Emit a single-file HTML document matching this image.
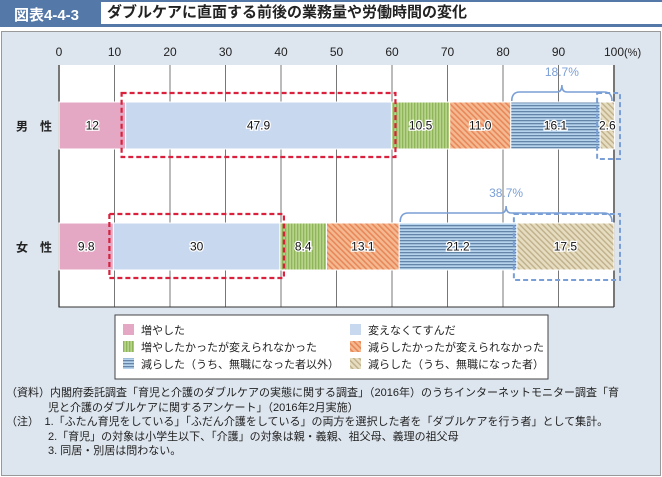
<!DOCTYPE html>
<html><head><meta charset="utf-8"><style>
body{margin:0;width:662px;height:477px;overflow:hidden;background:#fff;font-family:"Liberation Sans","Noto Sans CJK JP",sans-serif;}
#hdr{position:absolute;left:0;top:0;width:662px;height:27px;background:#5479a8;}
#lbl{position:absolute;left:14px;top:4px;color:#fff;font-size:15px;font-weight:bold;}
#ttl{position:absolute;left:101px;top:2px;width:556px;height:22px;background:#fff;font-size:15px;font-weight:bold;line-height:22px;padding-left:6px;color:#222;}
#panel{position:absolute;left:1px;top:31px;width:658px;height:443px;background:#dde5ee;border:1px solid #999;}
#notes{position:absolute;left:6px;top:386px;font-size:11px;line-height:14.5px;color:#222;}
svg{position:absolute;left:0;top:0;}
</style></head><body>
<div id="hdr"><span id="lbl">図表4-4-3</span></div>
<div id="ttl">ダブルケアに直面する前後の業務量や労働時間の変化</div>
<div id="panel"></div>
<svg id="chart" width="662" height="477">
<defs>
<pattern id="pg" width="3" height="4" patternUnits="userSpaceOnUse"><rect width="3" height="4" fill="#b7d38a"/><rect width="1.3" height="4" fill="#8fb55a"/></pattern>
<pattern id="po" width="4" height="4" patternUnits="userSpaceOnUse" patternTransform="rotate(-45)"><rect width="4" height="4" fill="#f4b990"/><rect width="1.6" height="4" fill="#e8875a"/></pattern>
<pattern id="pb" width="4" height="3" patternUnits="userSpaceOnUse"><rect width="4" height="3" fill="#b6d3ee"/><rect width="4" height="1.3" fill="#6585a8"/></pattern>
<pattern id="pt" width="4" height="4" patternUnits="userSpaceOnUse" patternTransform="rotate(-45)"><rect width="4" height="4" fill="#e6dcc0"/><rect width="1.4" height="4" fill="#bfb08a"/></pattern>
</defs>
<rect x="59" y="65" width="555" height="242" fill="#fff"/>
<g id="grid"></g><g id="bars"></g><g id="overlay"></g>
</svg>
<div id="notes">
<div>（資料）内閣府委託調査「育児と介護のダブルケアの実態に関する調査」（2016年）のうちインターネットモニター調査「育</div>
<div style="padding-left:42px">児と介護のダブルケアに関するアンケート」（2016年2月実施）</div>
<div>（注）　1.「ふたん育児をしている」「ふだん介護をしている」の両方を選択した者を「ダブルケアを行う者」として集計。</div>
<div style="padding-left:42px">2.「育児」の対象は小学生以下、「介護」の対象は親・義親、祖父母、義理の祖父母</div>
<div style="padding-left:42px">3. 同居・別居は問わない。</div>
</div>
<script>
const categories=["男　性","女　性"];
const seriesNames=["増やした","変えなくてすんだ","増やしたかったが変えられなかった","減らしたかったが変えられなかった","減らした（うち、無職になった者以外）","減らした（うち、無職になった者）"];
const maleValues=[12,47.9,10.5,11.0,16.1,2.6];
const femaleValues=[9.8,30,8.4,13.1,21.2,17.5];
const valueLabels=[["12","47.9","10.5","11.0","16.1","2.6"],["9.8","30","8.4","13.1","21.2","17.5"]];
const ticks=[0,10,20,30,40,50,60,70,80,90,100];
const braceLabels=["18.7%","38.7%"];
const fills=["#e4a8c4","#c8d8ef","url(#pg)","url(#po)","url(#pb)","url(#pt)"];
const NS="http://www.w3.org/2000/svg";
const X0=59,X1=614;
const xs=v=>X0+(X1-X0)*v/100;
const rowY=[102,223],BH=47;
function mk(t,a,p){const e=document.createElementNS(NS,t);for(const k in a)e.setAttribute(k,a[k]);p.appendChild(e);return e;}
const grid=document.getElementById('grid'),bars=document.getElementById('bars'),ov=document.getElementById('overlay');
ticks.forEach((t,i)=>{
 const l=mk('line',{x1:xs(t),x2:xs(t),y1:65,y2:307,stroke:i%2?'#777':'#bbb','stroke-width':i%2?1:2},grid);
 
 
 const tx=mk('text',{x:xs(t),y:56,'text-anchor':'middle','font-size':12,fill:'#222'},grid);
 tx.textContent=t;
 
 
});
const pct=mk('text',{x:xs(100)+10,y:56,'font-size':11,fill:'#222'},grid);pct.textContent='(%)';


const ax=mk('path',{d:`M${X0} 65V307H${X1}`,stroke:'#333',fill:'none'},grid);


mk('line',{x1:X1,x2:X1,y1:65,y2:307,stroke:'#333'},grid);
const rows=[maleValues,femaleValues];
const segs=[];
rows.forEach((vals,r)=>{
 const cl=mk('text',{x:34,y:rowY[r]+BH/2+5,'text-anchor':'middle','font-size':12,'font-weight':'bold',fill:'#222'},bars);
 cl.textContent=categories[r];
 
 
 let acc=0;segs[r]=[];
 vals.forEach((v,i)=>{
  const a=xs(acc),b=xs(acc+v);segs[r].push([a,b]);
  const rc=mk('rect',{x:a,y:rowY[r],width:b-a,height:BH,fill:fills[i],stroke:'#fff','stroke-width':1},bars);
  
  
  const tx=mk('text',{x:(a+b)/2,y:rowY[r]+BH/2+4,'text-anchor':'middle','font-size':12,fill:'#111',stroke:'#fff','stroke-width':2.5,'paint-order':'stroke'},bars);
  tx.textContent=valueLabels[r][i];
  
  
  acc+=v;
 });
});
segs.forEach((s,r)=>{
 const d=mk('rect',{x:s[1][0]-4,y:rowY[r]-9,width:s[1][1]-s[1][0]+8,height:BH+17,fill:'none',stroke:'#d9203c','stroke-width':2.2,'stroke-dasharray':'5,3'},ov);
 
 
 const e=mk('rect',{x:s[5][0]-3,y:rowY[r]-9,width:X1-s[5][0]+9,height:BH+19,fill:'none',stroke:'#7a9fd6','stroke-width':2,'stroke-dasharray':'5,3'},ov);
 
 
 const a=s[4][0]+1,b=X1-2,m=(a+b)/2,y=rowY[r]-7;
 const br=mk('path',{d:`M${a} ${y+6}Q${a} ${y-3} ${a+8} ${y-3}H${m-5}Q${m} ${y-3} ${m} ${y-10}Q${m} ${y-3} ${m+5} ${y-3}H${b-8}Q${b} ${y-3} ${b} ${y+6}`,fill:'none',stroke:'#7a9fd6','stroke-width':1.6},ov);
 
 
 const bl=mk('text',{x:m,y:y-19,'text-anchor':'middle','font-size':12,fill:'#7a9fd6'},ov);
 bl.textContent=braceLabels[r];
 
 
});
const lg=mk('rect',{x:115,y:315,width:433,height:64,fill:'#fff',stroke:'#444'},ov);


seriesNames.forEach((n,i)=>{
 const cx=i%2?350:123,cy=324+Math.floor(i/2)*17;
 const sw=mk('rect',{x:cx,y:cy,width:11,height:11,fill:fills[i]},ov);
 
 
 const t=mk('text',{x:cx+18,y:cy+10,'font-size':11,fill:'#222'},ov);
 t.textContent=n;
 
 
});
</script>
</body></html>
